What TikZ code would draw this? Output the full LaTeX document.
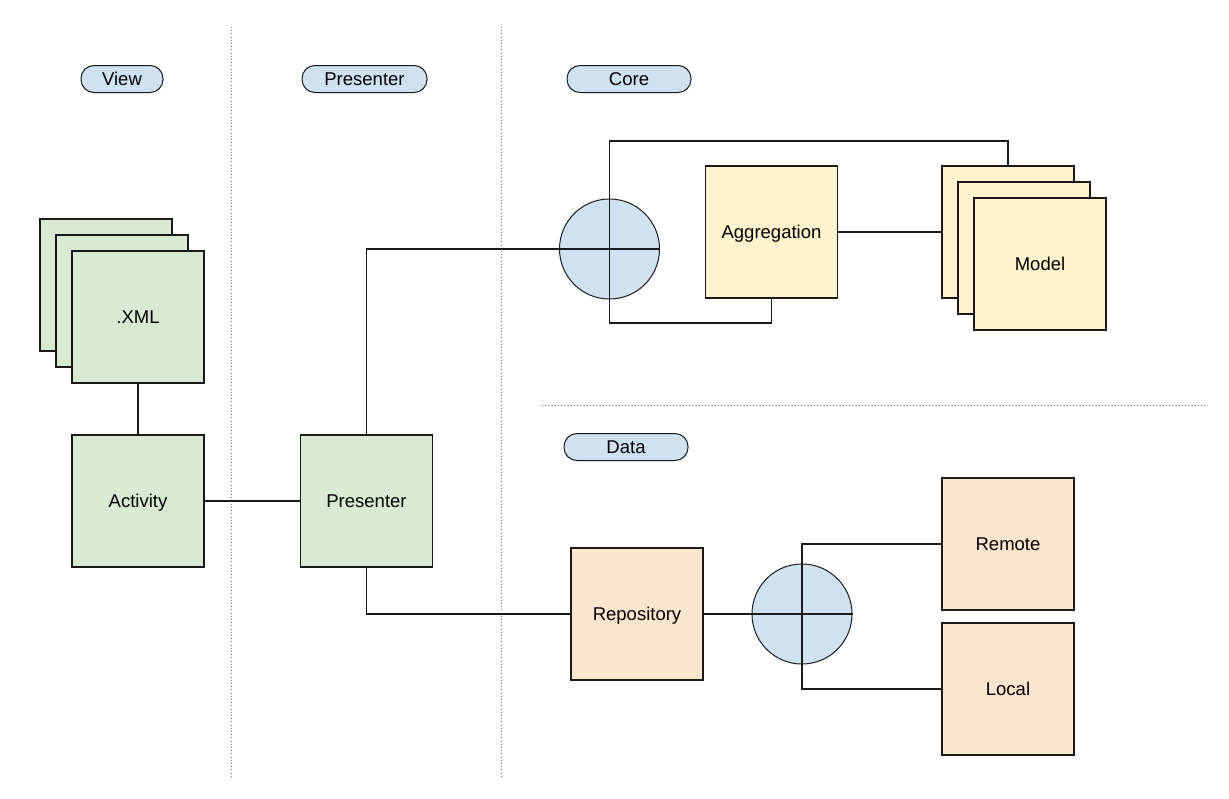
\documentclass[tikz,border=0pt]{standalone}
\usepackage{fontspec}
\setmainfont{Liberation Sans}
\definecolor{cgreen}{HTML}{D9EAD3}
\definecolor{cyellow}{HTML}{FFF2CC}
\definecolor{corange}{HTML}{FCE5CD}
\definecolor{cblue}{HTML}{CFE2F3}
\definecolor{cline}{HTML}{1A1A1A}
\begin{document}
\begin{tikzpicture}[x=1pt,y=-1pt,
  every node/.style={font=\fontsize{18.5}{21}\selectfont, text=black, text height=13pt, text depth=0pt},
  box/.style={draw=cline, line width=1.1pt, minimum width=132pt, minimum height=132pt, inner sep=0pt},
  gbox/.style={box, fill=cgreen},
  ybox/.style={box, fill=cyellow},
  obox/.style={box, fill=corange},
  pill/.style={draw=cline, line width=1pt, fill=cblue, rounded corners=13pt, minimum width=82pt, minimum height=27pt, inner sep=0pt},
  junction/.style={draw=cline, line width=1pt, fill=cblue, circle, minimum size=100pt, inner sep=0pt},
  conn/.style={draw=cline, line width=1.1pt},
  sep/.style={draw=black!55, line width=0.8pt, dash pattern=on 0.8pt off 2.4pt}
]
\useasboundingbox (0,0) rectangle (1229,798);

% separators
\coordinate (v1t) at (231,27); \coordinate (v1b) at (231,778);
\coordinate (v2t) at (501,27); \coordinate (v2b) at (501,778);
\coordinate (hl) at (542,405); \coordinate (hr) at (1205,405);
\draw[sep] (v1t) -- (v1b);
\draw[sep] (v2t) -- (v2b);
\draw[sep] (hl) -- (hr);

% pills
\node[pill] (pview) at (122,79) {View};
\node[pill, minimum width=125pt] (ppres) at (364.5,79) {Presenter};
\node[pill, minimum width=124pt] (pcore) at (629,79) {Core};
\node[pill, minimum width=124pt] (pdata) at (626,447) {Data};

% view stack
\node[gbox] (xmlb) at (106,285) {};
\node[gbox] (xmlm) at (122,301) {};
\node[gbox] (xml) at (138,317) {.XML};
\node[gbox] (act) at (138,501) {Activity};
\node[gbox] (pres) at (366.5,501) {Presenter};

% core
\node[junction] (core) at (609.5,249) {};
\node[ybox] (agg) at (771.5,232) {Aggregation};
\node[ybox] (modb) at (1008,232) {};
\node[ybox] (modm) at (1024,248) {};
\node[ybox] (mod) at (1040,264) {Model};

% data
\node[obox] (repo) at (637,614) {Repository};
\node[junction] (dj) at (802,614) {};
\node[obox] (remote) at (1008,544) {Remote};
\node[obox] (local) at (1008,689) {Local};

% connectors
\draw[conn] (xml.south) -- (act.north);
\draw[conn] (act.east) -- (pres.west);
\draw[conn] (pres.north) |- (core.west);
\coordinate (ctop) at (1008,141);
\draw[conn] (core.north) |- (ctop) -- (modb.north);
\coordinate (cbot) at (609.5,323);
\draw[conn] (core.south) -- (cbot) -| (agg.south);
\draw[conn] (agg.east) -- (modb.west);
\draw[conn] (core.west) -- (core.east);
\draw[conn] (core.north) -- (core.south);

\draw[conn] (pres.south) |- (repo.west);
\draw[conn] (repo.east) -- (dj.west);
\draw[conn] (dj.north) |- (remote.west);
\draw[conn] (dj.south) |- (local.west);
\draw[conn] (dj.west) -- (dj.east);
\draw[conn] (dj.north) -- (dj.south);
\end{tikzpicture}
\end{document}
